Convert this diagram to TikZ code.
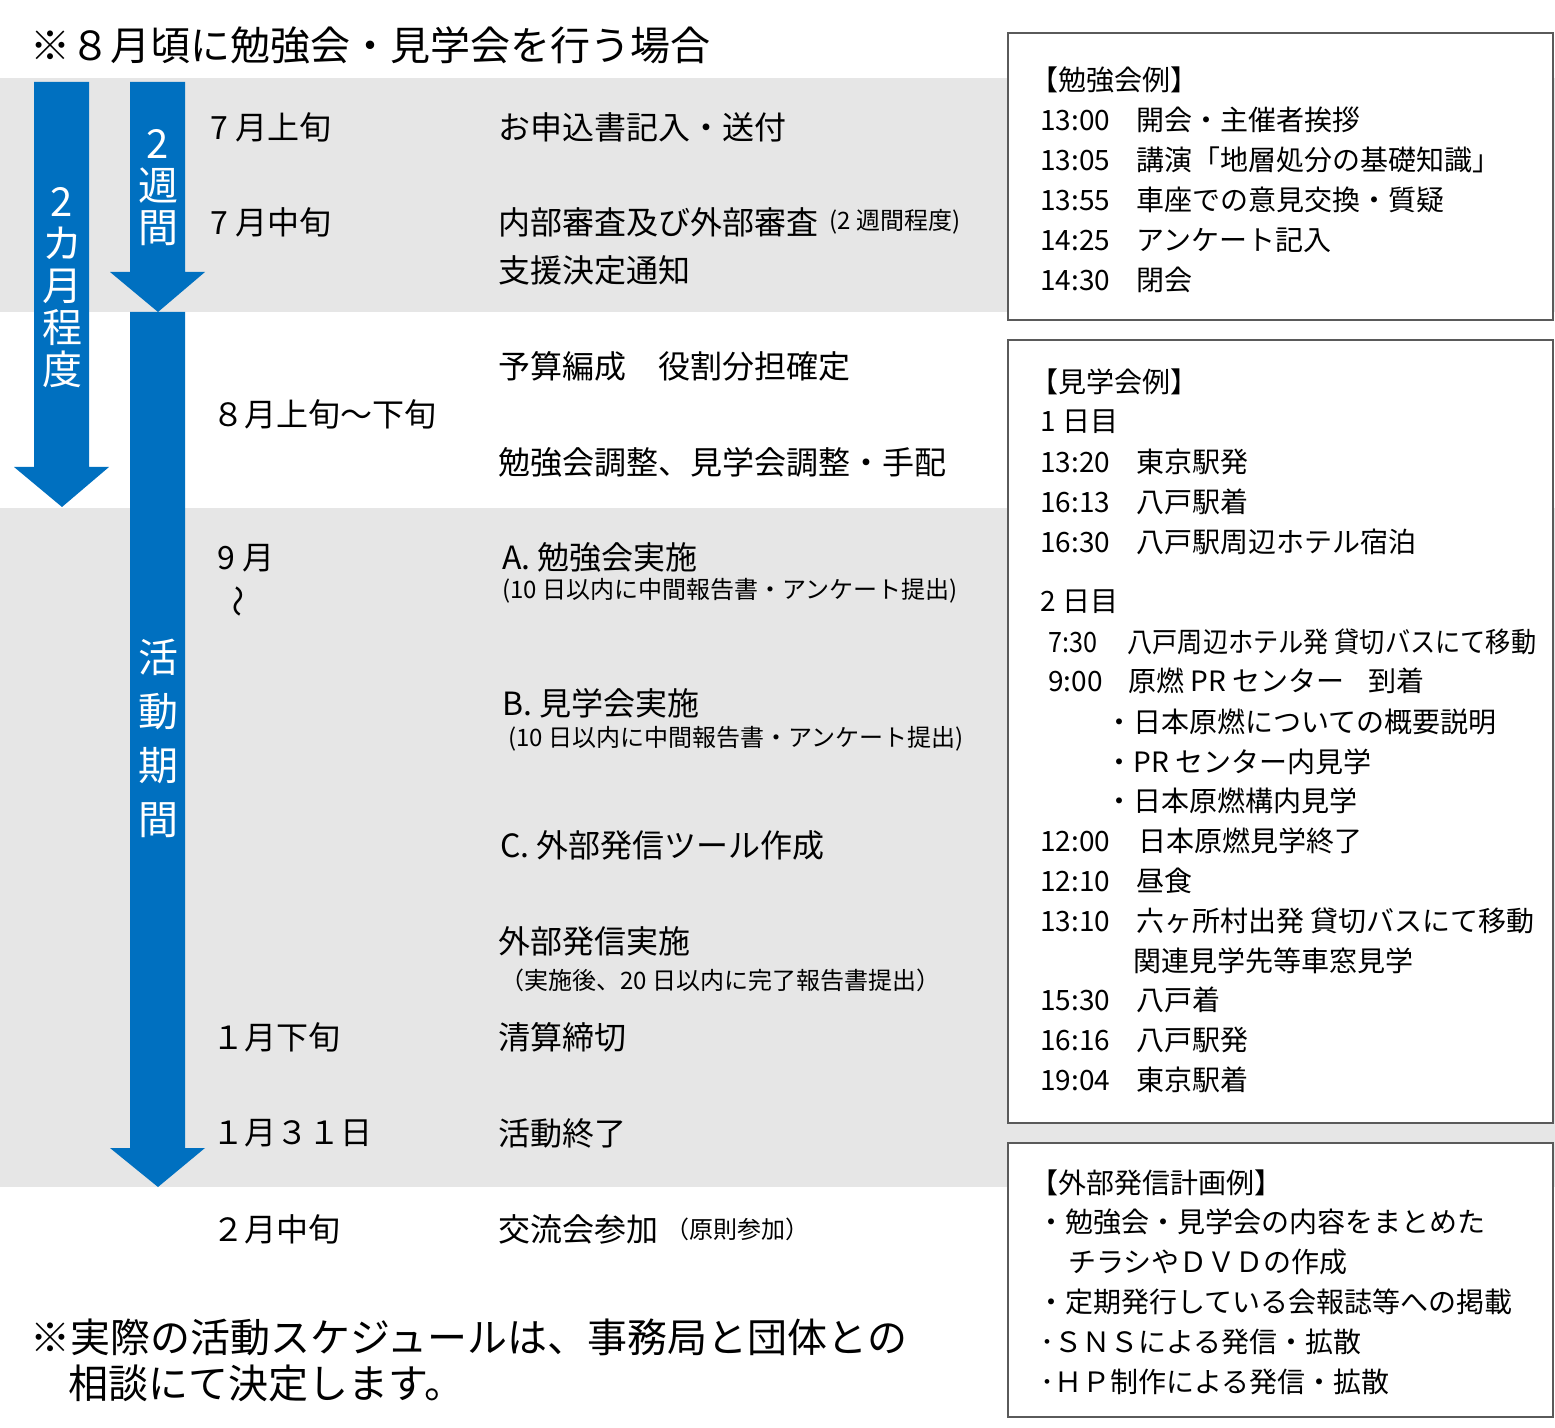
\documentclass[tikz,border=0pt]{standalone}
\usepackage{fontspec}
\setmainfont{Noto Sans CJK JP}
\usetikzlibrary{positioning}

\definecolor{actblue}{RGB}{0,112,192}
\definecolor{bandgray}{RGB}{230,230,230}
\definecolor{boxline}{RGB}{90,90,90}

\newcommand{\exrow}[2]{\makebox[48pt][l]{#1}#2}

\begin{document}
\begin{tikzpicture}[x=0.5pt,y=-0.5pt]
		\tikzstyle{item}=[anchor=west,inner sep=0pt,font=\fontsize{16}{18}\selectfont]
		\tikzstyle{sub}=[anchor=west,inner sep=0pt,font=\fontsize{12}{14}\selectfont]
		\tikzstyle{ex}=[anchor=west,inner sep=0pt,font=\fontsize{14}{16}\selectfont]
		\tikzstyle{head}=[anchor=west,inner sep=0pt,font=\fontsize{20}{22}\selectfont]
		\tikzstyle{exbox}=[draw=boxline,line width=0.7pt,fill=white]
		\tikzstyle{period}=[text=white,align=center,inner sep=0pt]
		
		\useasboundingbox (0,0) rectangle (1555,1428);
		
		% bands
		\fill[bandgray] (0,78) rectangle (1555,312);
		\fill[bandgray] (0,508) rectangle (1555,1187);
		
		% period arrows
		\fill[actblue] (34,82) -- (89,82) -- (89,467) -- (109,467) -- (62,507) -- (14,467) -- (34,467) -- cycle;
		\fill[actblue] (130,82) -- (185,82) -- (185,272) -- (205,272) -- (158,312) -- (110,272) -- (130,272) -- cycle;
		\fill[actblue] (130,312) -- (185,312) -- (185,1148) -- (205,1148) -- (158,1187) -- (110,1148) -- (130,1148) -- cycle;
		
		\node[period,font=\fontsize{20}{21}\selectfont] (p1) at (62,288) {2\\カ\\月\\程\\度};
		\node[period,font=\fontsize{20}{21}\selectfont] (p2) at (158,188) {2\\週\\間};
		\node[period,font=\fontsize{20}{27}\selectfont] (p3) at (158,738) {活\\動\\期\\間};
		
		\node[head] (title) at (30,45) {※８月頃に勉強会・見学会を行う場合};
		
		% dates
		\node[item] (d1) at (210,127) {7 月上旬};
		\node[item] (d2) at (210,222) {7 月中旬};
		\node[item] (d3) at (212,414) {８月上旬～下旬};
		\node[item] (d4) at (217,558) {9 月};
		\node[item,anchor=center,rotate=90] (d4w) at (242,602) {～};
		\node[item] (d5) at (212,1037) {１月下旬};
		\node[item] (d6) at (212,1133) {１月３１日};
		\node[item] (d7) at (212,1229) {２月中旬};
		
		% tasks
		\node[item] (t1) at (498,127) {お申込書記入・送付};
		\node[item] (t2) at (498,222) {内部審査及び外部審査};
		\node[sub,right=5pt of t2] (t2s) {(2 週間程度)};
		\node[item] (t3) at (498,270) {支援決定通知};
		\node[item] (t4) at (498,366) {予算編成　役割分担確定};
		\node[item] (t5) at (498,462) {勉強会調整、見学会調整・手配};
		\node[item] (t6) at (502,557) {A. 勉強会実施};
		\node[sub] (t6s) at (502,591) {(10 日以内に中間報告書・アンケート提出)};
		\node[item] (t7) at (502,703) {B. 見学会実施};
		\node[sub] (t7s) at (508,739) {(10 日以内に中間報告書・アンケート提出)};
		\node[item] (t8) at (500,845) {C. 外部発信ツール作成};
		\node[item] (t9) at (498,941) {外部発信実施};
		\node[sub] (t9s) at (500,980) {（実施後、20 日以内に完了報告書提出）};
		\node[item] (t10) at (498,1037) {清算締切};
		\node[item] (t11) at (498,1133) {活動終了};
		\node[item] (t12) at (498,1229) {交流会参加};
		\node[sub,right=3pt of t12] (t12s) {（原則参加）};
		
		\node[head] (fn1) at (30,1337) {※実際の活動スケジュールは、事務局と団体との};
		\node[head] (fn2) at (68,1383) {相談にて決定します。};
		
		% study example
		\draw[exbox] (1008,33) rectangle (1553,320);
		\node[ex] (s0) at (1030,80) {【勉強会例】};
		\node[ex] (s1) at (1040,120) {\exrow{13:00}{開会・主催者挨拶}};
		\node[ex] (s2) at (1040,160) {\exrow{13:05}{講演「地層処分の基礎知識」}};
		\node[ex] (s3) at (1040,200) {\exrow{13:55}{車座での意見交換・質疑}};
		\node[ex] (s4) at (1040,240) {\exrow{14:25}{アンケート記入}};
		\node[ex] (s5) at (1040,280) {\exrow{14:30}{閉会}};
		
		% tour example
		\draw[exbox] (1008,340) rectangle (1553,1123);
		\node[ex] (v0) at (1030,382) {【見学会例】};
		\node[ex] (v1) at (1040,422) {1 日目};
		\node[ex] (v2) at (1040,462) {\exrow{13:20}{東京駅発}};
		\node[ex] (v3) at (1040,502) {\exrow{16:13}{八戸駅着}};
		\node[ex] (v4) at (1040,542) {\exrow{16:30}{八戸駅周辺ホテル宿泊}};
		\node[ex] (v5) at (1040,602) {2 日目};
		\node[ex,xscale=0.9] (v6) at (1048,642) {\makebox[44pt][l]{7:30}八戸周辺ホテル発 貸切バスにて移動};
		\node[ex] (v7) at (1048,681) {\makebox[40pt][l]{9:00}原燃 PR センター\hspace{12pt}到着};
		\node[ex] (v8) at (1105,722) {・日本原燃についての概要説明};
		\node[ex] (v9) at (1105,762) {・PR センター内見学};
		\node[ex] (v10) at (1105,801) {・日本原燃構内見学};
		\node[ex] (v11) at (1040,841) {\makebox[49pt][l]{12:00}日本原燃見学終了};
		\node[ex] (v12) at (1040,881) {\exrow{12:10}{昼食}};
		\node[ex] (v13) at (1040,921) {\exrow{13:10}{六ヶ所村出発 貸切バスにて移動}};
		\node[ex] (v14) at (1133,961) {関連見学先等車窓見学};
		\node[ex] (v15) at (1040,1000) {\exrow{15:30}{八戸着}};
		\node[ex] (v16) at (1040,1040) {\exrow{16:16}{八戸駅発}};
		\node[ex] (v17) at (1040,1080) {\exrow{19:04}{東京駅着}};
		
		% outreach example
		\draw[exbox] (1008,1143) rectangle (1553,1417);
		\node[ex] (g0) at (1030,1183) {【外部発信計画例】};
		\node[ex] (g1) at (1037,1222) {・勉強会・見学会の内容をまとめた};
		\node[ex] (g2) at (1068,1262) {チラシやＤＶＤの作成};
		\node[ex] (g3) at (1037,1302) {・定期発行している会報誌等への掲載};
		\node[ex] (g4) at (1040,1342) {･ＳＮＳによる発信・拡散};
		\node[ex] (g5) at (1040,1382) {･ＨＰ制作による発信・拡散};
\end{tikzpicture}
\end{document}
